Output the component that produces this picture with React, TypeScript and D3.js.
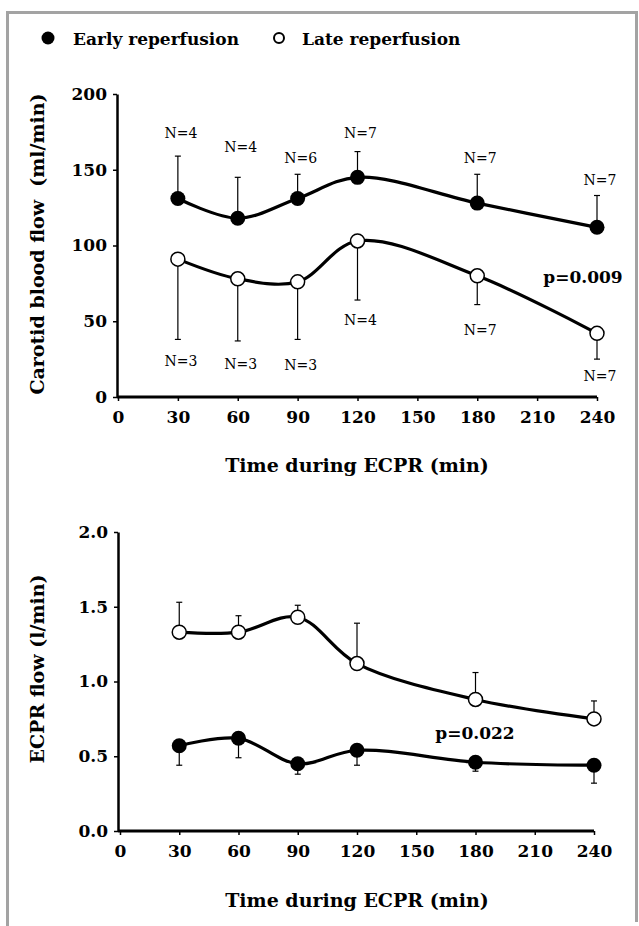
import React, { useRef, useEffect } from 'react';
import * as d3 from 'd3';

// time points (min)
const times = [30, 60, 90, 120, 180, 240];
const xTicks = [0, 30, 60, 90, 120, 150, 180, 210, 240];

// carotid blood flow (ml/min)
const carotidEarly = [131, 118, 131, 145, 128, 112];
const carotidEarlySD = [28, 27, 16, 17, 19, 21];
const carotidLate = [91, 78, 76, 103, 80, 42];
const carotidLateSD = [53, 41, 38, 39, 19, 17];
const carotidEarlyN = ['N=4', 'N=4', 'N=6', 'N=7', 'N=7', 'N=7'];
const carotidLateN = ['N=3', 'N=3', 'N=3', 'N=4', 'N=7', 'N=7'];
// where the N labels sit, in ml/min
const carotidEarlyNAt = [174, 165, 158, 174, 158, 143];
const carotidLateNAt = [24, 22, 21, 51, 44, 14];
const carotidTicks = [0, 50, 100, 150, 200];

// ECPR flow (l/min)
const ecprEarly = [0.57, 0.62, 0.45, 0.54, 0.46, 0.44];
const ecprEarlySD = [0.13, 0.13, 0.07, 0.1, 0.06, 0.12];
const ecprLate = [1.33, 1.33, 1.43, 1.12, 0.88, 0.75];
const ecprLateSD = [0.2, 0.11, 0.08, 0.27, 0.18, 0.12];
const ecprTicks = [0, 0.5, 1.0, 1.5, 2.0];

const FONT = '"DejaVu Serif", serif';

export default function App() {
  const ref = useRef(null);

  useEffect(() => {
    const width = 639;
    const height = 926;

    const svg = d3
      .select(ref.current)
      .call((g) => g.select('svg').remove())
      .append('svg')
      .attr('width', width)
      .attr('height', height)
      .style('position', 'absolute')
      .style('left', 0)
      .style('top', 0)
      .style('font-family', FONT);

    // frame
    svg.append('path')
      .attr('d', 'M7.5,926 V12.5 H636.5 V922')
      .attr('fill', 'none')
      .attr('stroke', '#a3a3a3')
      .attr('stroke-width', 3);

    // legend
    const legend = svg.append('g');
    legend.append('circle').attr('cx', 48).attr('cy', 38).attr('r', 6.5).attr('fill', '#000');
    legend.append('text').attr('x', 73).attr('y', 45).attr('font-size', 17).attr('font-weight', 'bold')
      .text('Early reperfusion');
    legend.append('circle').attr('cx', 279).attr('cy', 38).attr('r', 5).attr('fill', '#fff')
      .attr('stroke', '#000').attr('stroke-width', 2);
    legend.append('text').attr('x', 302).attr('y', 45).attr('font-size', 17).attr('font-weight', 'bold')
      .text('Late reperfusion');

    const panel = (opts) => {
      const { top, bottom, left, right, x0, domain, ticks, fmt, yTitle, titleY, xTitleY,
        series, pText, pX, pY } = opts;
      const x = d3.scaleLinear().domain([0, 240]).range([x0, right]);
      const y = d3.scaleLinear().domain(domain).range([bottom, top]);
      const g = svg.append('g');

      // y axis
      const ya = g.append('g').attr('transform', `translate(${left},0)`)
        .call(d3.axisLeft(y).tickValues(ticks).tickFormat(fmt).tickSize(4).tickSizeOuter(0));
      ya.select('.domain').attr('stroke-width', 2.5);
      ya.selectAll('.tick line').attr('stroke-width', 1.5);
      ya.selectAll('text').attr('font-size', 17).attr('font-weight', 'bold')
        .attr('font-family', FONT).attr('dx', '-3');

      // x axis
      const xa = g.append('g').attr('transform', `translate(0,${bottom})`)
        .call(d3.axisBottom(x).tickValues(xTicks).tickSize(4).tickSizeOuter(0));
      xa.select('.domain').attr('d', `M${left},0H${right}`).attr('stroke-width', 3);
      xa.selectAll('.tick line').attr('stroke-width', 1.5);
      xa.selectAll('text').attr('font-size', 17).attr('font-weight', 'bold')
        .attr('font-family', FONT).attr('dy', '1.1em');

      g.append('text')
        .attr('transform', `translate(37,${titleY}) rotate(-90)`)
        .attr('text-anchor', 'middle').attr('dominant-baseline', 'central')
        .attr('font-size', 19).attr('font-weight', 'bold')
        .style('white-space', 'pre')
        .text(yTitle);

      g.append('text')
        .attr('x', 357).attr('y', xTitleY)
        .attr('text-anchor', 'middle').attr('dominant-baseline', 'central')
        .attr('font-size', 19).attr('font-weight', 'bold')
        .text('Time during ECPR (min)');

      const line = d3.line()
        .x((d) => x(d[0]))
        .y((d) => y(d[1]))
        .curve(d3.curveCatmullRom.alpha(0.5));

      series.forEach(({ values, sd, dir, filled, nLabels, nAt }) => {
        const s = g.append('g');
        // error bars
        values.forEach((v, i) => {
          const end = v + dir * sd[i];
          const cx = x(times[i]);
          s.append('line').attr('x1', cx).attr('x2', cx).attr('y1', y(v)).attr('y2', y(end))
            .attr('stroke', '#000').attr('stroke-width', 1.2);
          s.append('line').attr('x1', cx - 3).attr('x2', cx + 3).attr('y1', y(end)).attr('y2', y(end))
            .attr('stroke', '#000').attr('stroke-width', 1.2);
        });
        s.append('path')
          .attr('d', line(values.map((v, i) => [times[i], v])))
          .attr('fill', 'none').attr('stroke', '#000').attr('stroke-width', 3.2);
        s.selectAll('circle').data(values).join('circle')
          .attr('cx', (d, i) => x(times[i]))
          .attr('cy', (d) => y(d))
          .attr('r', filled ? 7.5 : 7)
          .attr('fill', filled ? '#000' : '#fff')
          .attr('stroke', '#000').attr('stroke-width', filled ? 0 : 1.5);
        if (nLabels) {
          s.selectAll('text.n').data(nLabels).join('text')
            .attr('class', 'n')
            .attr('x', (d, i) => x(times[i]) + 3)
            .attr('y', (d, i) => y(nAt[i]))
            .attr('text-anchor', 'middle').attr('dominant-baseline', 'central')
            .attr('font-size', 14)
            .text((d) => d);
        }
      });

      g.append('text').attr('x', pX).attr('y', pY)
        .attr('text-anchor', 'middle').attr('dominant-baseline', 'central')
        .attr('font-size', 17).attr('font-weight', 'bold').text(pText);
    };

    panel({
      top: 94, bottom: 397, left: 117, right: 597, x0: 118,
      domain: [0, 200], ticks: carotidTicks, fmt: d3.format('d'),
      yTitle: 'Carotid blood flow  (ml/min)', titleY: 244, xTitleY: 465,
      series: [
        { values: carotidEarly, sd: carotidEarlySD, dir: 1, filled: true, nLabels: carotidEarlyN, nAt: carotidEarlyNAt },
        { values: carotidLate, sd: carotidLateSD, dir: -1, filled: false, nLabels: carotidLateN, nAt: carotidLateNAt },
      ],
      pText: 'p=0.009', pX: 583, pY: 277,
    });

    panel({
      top: 532, bottom: 831, left: 118, right: 594, x0: 120,
      domain: [0, 2], ticks: ecprTicks, fmt: d3.format('.1f'),
      yTitle: 'ECPR flow (l/min)', titleY: 669, xTitleY: 900,
      series: [
        { values: ecprLate, sd: ecprLateSD, dir: 1, filled: false },
        { values: ecprEarly, sd: ecprEarlySD, dir: -1, filled: true },
      ],
      pText: 'p=0.022', pX: 475, pY: 733,
    });
  }, []);

  return <div ref={ref}></div>;
}
